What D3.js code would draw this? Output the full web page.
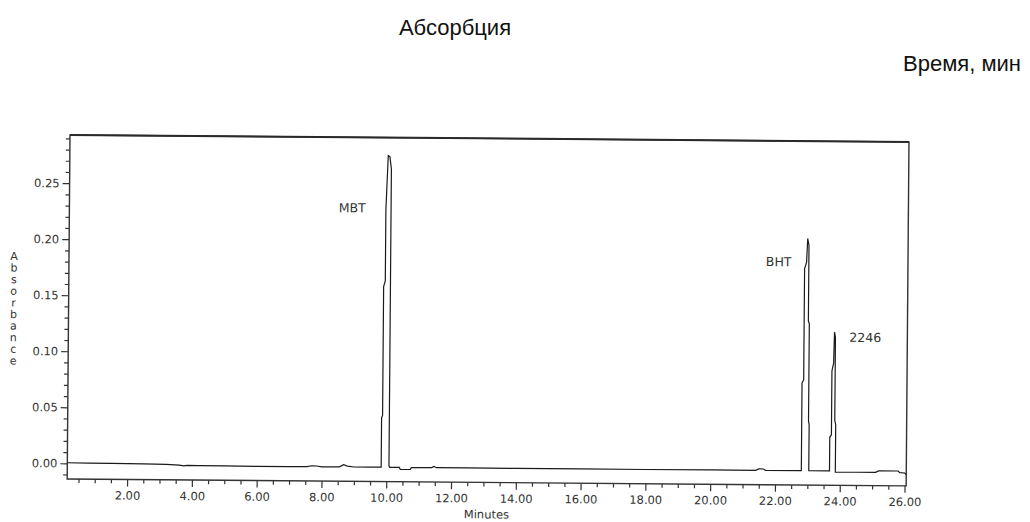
<!DOCTYPE html>
<html><head><meta charset="utf-8">
<script src="https://cdn.jsdelivr.net/npm/d3@7"></script>
<style>
body{margin:0;background:#fff}
svg{display:block}
</style>
</head><body>
<svg id="c" width="1030" height="522"></svg>
<script>
// ---- data ----
const times = [
  0.15, 0.8, 1.5, 2.5, 3.2, 3.6, 3.75, 3.85, 4.2, 5.0, 6.0, 7.0, 7.55, 7.7, 7.85, 8.0, 8.55, 8.68, 8.8, 9.0, 9.5, 9.82,
  9.84, 9.84, 9.87, 9.87, 9.92, 9.92, 9.98, 10.03, 10.08, 10.08, 10.1,
  10.4, 10.43, 10.74, 10.77, 11.4, 11.47, 11.55, 12.5, 14.0, 16.0, 18.0, 20.0, 21.4, 21.5, 21.65, 21.7, 22.79,
  22.81, 22.81, 22.86, 22.86, 22.92, 22.95, 22.99, 22.99, 23.02, 23.02, 23.04, 23.04,
  23.66, 23.68, 23.68, 23.73, 23.73, 23.78, 23.8, 23.83, 23.83, 23.86, 23.86,
  24.5, 25.1, 25.2, 25.8, 25.85, 26.0, 26.05
];
const absorbance = [
  0.0005, 0.0003, 0.0002, 0.0, -0.0002, -0.0008, -0.0015, -0.0010, -0.0012, -0.0012, -0.0013, -0.0014, -0.0012, -0.0004, -0.0006, -0.0014, -0.0012, 0.0008, -0.0005, -0.0012, -0.0012, -0.0012,
  -0.0012, 0.043, 0.045, 0.160, 0.165, 0.228, 0.277, 0.276, 0.265, 0.0, -0.0012,
  -0.0012, -0.0030, -0.0030, -0.0014, -0.0012, -0.0002, -0.0012, -0.0012, -0.0013, -0.0013, -0.0013, -0.0012, -0.0012, 0.0, 0.0, -0.0012, -0.0012,
  -0.0012, 0.077, 0.080, 0.179, 0.185, 0.206, 0.200, 0.1325, 0.130, 0.043, 0.040, -0.0012,
  -0.0012, -0.0012, 0.029, 0.031, 0.088, 0.095, 0.1226, 0.118, 0.044, 0.040, -0.0022,
  -0.0022, -0.0022, -0.0008, -0.0008, -0.0022, -0.0025, -0.0040
];
const xTickValues = [2, 4, 6, 8, 10, 12, 14, 16, 18, 20, 22, 24, 26];
const yTickValues = [0, 0.05, 0.10, 0.15, 0.20, 0.25];
const peakNames = ["MBT", "BHT", "2246"];
const peakLabelTimes = [8.88, 22.06, 24.75];
const peakLabelValues = [0.230, 0.185, 0.118];
const titleText = "Абсорбция";
const timeText = "Время, мин";
const xTitle = "Minutes";
const yTitle = "Absorbance";

// ---- drawing ----
const chartFont = "'DejaVu Sans', Verdana, sans-serif";
const titleFont = "'Liberation Sans', Arial, sans-serif";
const svg = d3.select("#c");
svg.append("rect").attr("width",1030).attr("height",522).attr("fill","#fff");

svg.append("text").attr("x",455).attr("y",35).attr("text-anchor","middle")
  .style("font-family",titleFont).attr("font-size",22).attr("fill","#111").text(titleText);
svg.append("text").attr("x",1021).attr("y",71).attr("text-anchor","end")
  .style("font-family",titleFont).attr("font-size",22).attr("fill","#111").text(timeText);

const x = d3.scaleLinear().domain([0.15, 26.05]).range([70, 909]);
const y = d3.scaleLinear().domain([-0.014, 0.293]).range([479, 135]);

const g = svg.append("g").attr("transform","rotate(0.47,70,135)");

// minor ticks
const xMinor = d3.range(0.5, 26.01, 0.5).filter(v => Math.abs(v/2 - Math.round(v/2)) > 1e-6);
const yMinor = d3.range(-0.01, 0.2901, 0.01).filter(v => Math.abs(v/0.05 - Math.round(v/0.05)) > 1e-6);

const gxm = g.append("g").attr("transform",`translate(0,${y.range()[0]})`)
  .call(d3.axisBottom(x).tickValues(xMinor).tickSize(4).tickFormat(""));
const gx = g.append("g").attr("transform",`translate(0,${y.range()[0]})`)
  .call(d3.axisBottom(x).tickValues(xTickValues).tickSize(7).tickPadding(5).tickFormat(d3.format(".2f")));
const gym = g.append("g").attr("transform",`translate(${x.range()[0]},0)`)
  .call(d3.axisLeft(y).tickValues(yMinor).tickSize(4).tickFormat(""));
const gy = g.append("g").attr("transform",`translate(${x.range()[0]},0)`)
  .call(d3.axisLeft(y).tickValues(yTickValues).tickSize(7).tickPadding(3).tickFormat(d3.format(".2f")));

[gxm,gx,gym,gy].forEach(a=>{
  a.select(".domain").remove();
  a.selectAll("line").attr("stroke","#333").attr("stroke-width",1.2);
  a.selectAll("text").style("font-family",chartFont).style("font-size","11.5px").attr("fill","#333");
});

// frame
g.append("rect").attr("x",x.range()[0]).attr("y",y.range()[1])
  .attr("width",x.range()[1]-x.range()[0]).attr("height",y.range()[0]-y.range()[1])
  .attr("fill","none").attr("stroke","#333").attr("stroke-width",1.4);
g.append("line").attr("x1",x.range()[0]).attr("x2",x.range()[1])
  .attr("y1",y.range()[1]).attr("y2",y.range()[1]).attr("stroke","#2a2a2a").attr("stroke-width",2);

// trace
const pts = times.map((t,i)=>[t, absorbance[i]]);
g.append("path").datum(pts)
  .attr("d", d3.line().x(d=>x(d[0])).y(d=>y(d[1])))
  .attr("fill","none").attr("stroke","#1a1a1a").attr("stroke-width",1.2)
  .attr("stroke-linejoin","miter");

// peak labels
g.selectAll(".pk").data(peakNames).join("text").attr("class","pk")
  .attr("x",(d,i)=>x(peakLabelTimes[i])).attr("y",(d,i)=>y(peakLabelValues[i]))
  .attr("dy","0.35em").attr("text-anchor","middle")
  .style("font-family",chartFont).style("font-size","12.5px").attr("fill","#333").text(d=>d);

// axis titles
g.append("text").attr("x",(x.range()[0]+x.range()[1])/2).attr("y",515)
  .attr("text-anchor","middle").style("font-family",chartFont)
  .style("font-size","11.5px").attr("fill","#333").text(xTitle);
const yt = g.append("text").attr("text-anchor","middle").style("font-family",chartFont)
  .style("font-size","11px").attr("fill","#333");
yt.selectAll("tspan").data(yTitle.split("")).join("tspan")
  .attr("x",15).attr("y",(d,i)=>260.5+i*11.6).text(d=>d);
</script>
</body></html>
